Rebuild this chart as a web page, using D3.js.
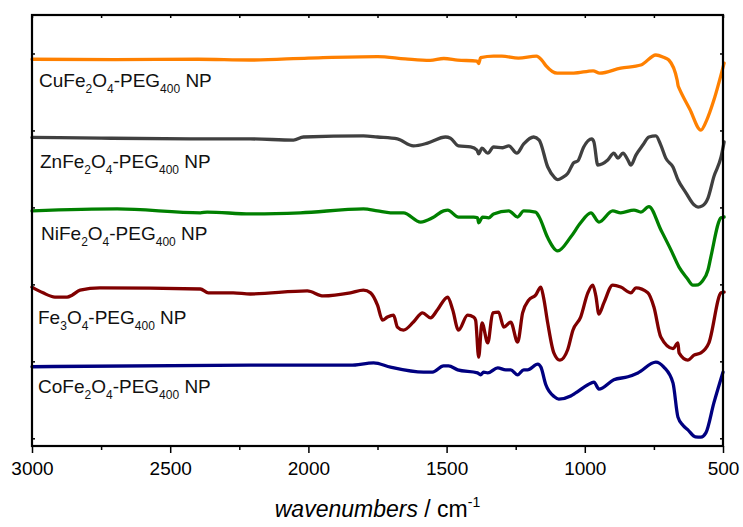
<!DOCTYPE html>
<html>
<head>
<meta charset="utf-8">
<script src="https://cdn.jsdelivr.net/npm/d3@7"></script>
<style>
  html, body { margin: 0; padding: 0; background: #fff; }
  svg { display: block; font-family: "Liberation Sans", Arial, Helvetica, sans-serif; }
</style>
</head>
<body>
<div id="chart"></div>
<script>
// x axis ticks (wavenumbers, cm-1)
const xMajor = [3000, 2500, 2000, 1500, 1000, 500]
const xMinor = [2750, 2250, 1750, 1250, 750]
const yTicks = [0, 20, 40, 60, 80, 100]

// spectra: [wavenumber, transmittance (a.u., offset)]
const cuFe2O4 = [
  [3000, 98.5], [2700, 98.4], [2400, 98.5], [2210, 98.3], [2000, 98.8], [1750, 99.2],
  [1650, 98.6], [1560, 98.2], [1510, 98.7], [1460, 98.3], [1390, 98.0], [1384, 97.4],
  [1377, 98.9], [1330, 99.3], [1300, 99.3], [1240, 98.8], [1175, 99.3], [1155, 98.2],
  [1140, 96.8], [1100, 94.9], [1040, 94.9], [970, 95.5], [946, 94.9], [870, 96.2],
  [797, 97.0], [743, 99.6], [715, 99.0], [696, 98.3], [666, 93.1], [662, 91.5],
  [659, 91.0], [620, 85.5], [580, 80.1], [560, 82.5], [533, 87.9], [496, 97.5]
]
const znFe2O4 = [
  [3000, 78.2], [2750, 78.0], [2400, 77.8], [2210, 77.8], [2054, 77.5], [2018, 78.3],
  [1801, 78.6], [1750, 78.3], [1678, 77.8], [1620, 76.0], [1569, 76.7], [1504, 78.3],
  [1486, 78.0], [1457, 76.0], [1413, 75.7], [1390, 74.9], [1384, 73.9], [1372, 75.4],
  [1351, 74.1], [1330, 75.7], [1297, 75.5], [1275, 76.0], [1246, 74.1], [1221, 76.5],
  [1185, 78.3], [1165, 77.5], [1134, 70.5], [1110, 67.8], [1098, 67.2], [1080, 67.8],
  [1062, 68.8], [1040, 71.6], [1025, 72.1], [1004, 75.7], [975, 77.8], [967, 77.0],
  [953, 71.0], [917, 72.3], [895, 74.1], [880, 72.8], [862, 74.1], [844, 72.3],
  [833, 71.0], [815, 73.6], [790, 76.2], [768, 78.3], [743, 78.6], [725, 76.2],
  [707, 72.8], [681, 70.5], [663, 67.2], [634, 63.8], [605, 60.7], [590, 60.1],
  [575, 60.4], [554, 62.5], [533, 68.0], [507, 73.1], [496, 77.0]
]
const niFe2O4 = [
  [3000, 59.1], [2692, 59.6], [2391, 58.6], [2366, 58.8], [2210, 58.3], [2029, 58.6],
  [1801, 59.6], [1750, 59.1], [1703, 58.6], [1656, 58.6], [1594, 56.2], [1551, 57.3],
  [1511, 59.1], [1496, 59.3], [1457, 57.5], [1402, 57.5], [1388, 57.3], [1384, 56.0],
  [1370, 57.5], [1348, 57.3], [1330, 58.3], [1275, 59.1], [1243, 57.5], [1221, 59.1],
  [1178, 58.8], [1165, 57.5], [1134, 52.1], [1098, 48.7], [1051, 52.3], [1015, 56.0],
  [978, 58.6], [949, 56.2], [899, 59.1], [870, 58.6], [822, 59.3], [797, 58.8],
  [768, 60.2], [725, 54.2], [688, 48.9], [659, 44.5], [630, 41.6], [609, 39.8],
  [590, 39.9], [575, 40.8], [554, 43.8], [544, 47.1], [507, 57.3], [496, 57.5]
]
const fe3O4 = [
  [3000, 39.3], [2960, 37.8], [2917, 36.7], [2873, 36.7], [2855, 37.2], [2826, 38.5],
  [2754, 39.1], [2391, 38.8], [2362, 37.8], [2272, 37.8], [2210, 37.5], [2004, 38.3],
  [1946, 37.0], [1848, 37.8], [1801, 38.5], [1775, 37.8], [1750, 34.6], [1732, 30.7],
  [1714, 31.5], [1692, 32.0], [1678, 28.9], [1656, 28.1], [1620, 30.2], [1587, 32.6],
  [1558, 31.3], [1533, 33.4], [1496, 36.7], [1478, 33.4], [1457, 28.1], [1424, 32.0],
  [1402, 31.5], [1395, 30.7], [1384, 21.1], [1372, 30.0], [1351, 24.8], [1333, 32.6],
  [1312, 32.8], [1293, 28.9], [1268, 30.2], [1243, 25.0], [1225, 32.6], [1203, 35.9],
  [1178, 37.2], [1159, 39.3], [1149, 36.5], [1134, 29.9], [1112, 22.2], [1090, 20.3],
  [1062, 23.0], [1043, 28.1], [1015, 31.5], [989, 37.8], [971, 39.8], [960, 37.0],
  [949, 32.3], [931, 35.2], [899, 39.8], [870, 39.3], [833, 37.8], [815, 39.1],
  [772, 37.8], [750, 34.1], [725, 26.3], [681, 23.3], [663, 24.8], [659, 22.2],
  [627, 20.3], [605, 21.6], [580, 22.2], [551, 24.8], [507, 37.8], [496, 38.0]
]
const coFe2O4 = [
  [3000, 18.6], [2210, 19.0], [1848, 19.0], [1764, 19.6], [1703, 18.5], [1583, 17.2],
  [1551, 17.2], [1511, 18.8], [1493, 18.8], [1460, 17.8], [1388, 17.0], [1377, 16.5],
  [1366, 17.2], [1351, 17.0], [1315, 18.3], [1286, 17.8], [1268, 17.8], [1243, 16.5],
  [1221, 17.8], [1207, 17.8], [1170, 19.3], [1159, 18.5], [1141, 13.9], [1110, 10.8],
  [1094, 10.2], [1051, 11.0], [1033, 11.8], [989, 13.9], [967, 14.6], [949, 12.8],
  [895, 15.2], [844, 16.0], [808, 17.0], [743, 19.8], [714, 18.5], [681, 14.4],
  [663, 5.5], [645, 3.4], [627, 2.2], [600, 0.4], [580, 0.3], [562, 1.4], [533, 9.2],
  [500, 17.2]
]

const seriesData = [cuFe2O4, znFe2O4, niFe2O4, fe3O4, coFe2O4]
const seriesColors = ["#ff8000", "#404040", "#008000", "#800000", "#000080"]
// label text pieces: [text, "sub"|""]
const seriesLabels = [
  [["CuFe", ""], ["2", "sub"], ["O", ""], ["4", "sub"], ["-PEG", ""], ["400", "sub"], [" NP", ""]],
  [["ZnFe", ""], ["2", "sub"], ["O", ""], ["4", "sub"], ["-PEG", ""], ["400", "sub"], [" NP", ""]],
  [["NiFe", ""], ["2", "sub"], ["O", ""], ["4", "sub"], ["-PEG", ""], ["400", "sub"], [" NP", ""]],
  [["Fe", ""], ["3", "sub"], ["O", ""], ["4", "sub"], ["-PEG", ""], ["400", "sub"], [" NP", ""]],
  [["CoFe", ""], ["2", "sub"], ["O", ""], ["4", "sub"], ["-PEG", ""], ["400", "sub"], [" NP", ""]]
]
const labelPos = [[39, 87], [40, 168], [41, 240], [38, 324], [38, 393]]

const W = 743, H = 527
const box = { left: 32, top: 15, right: 723, bottom: 446 }

const svg = d3.select("#chart").append("svg")
  .attr("width", W)
  .attr("height", H)

svg.append("rect").attr("width", W).attr("height", H).attr("fill", "#fff")

const x = d3.scaleLinear().domain([3000, 500]).range([box.left, box.right])
const y = d3.scaleLinear().domain([-2, 110]).range([box.bottom, box.top])

const line = d3.line()
  .x((d) => x(d[0]))
  .y((d) => y(d[1]))
  .curve(d3.curveMonotoneX)

const curves = svg.append("g")
seriesData.forEach((data, i) => {
  curves.append("path")
    .datum(data)
    .attr("d", line)
    .attr("fill", "none")
    .attr("stroke", seriesColors[i])
    .attr("stroke-width", 3.3)
    .attr("stroke-linejoin", "round")
    .attr("stroke-linecap", "round")
})

// frame
svg.append("rect")
  .attr("x", box.left)
  .attr("y", box.top)
  .attr("width", box.right - box.left)
  .attr("height", box.bottom - box.top)
  .attr("fill", "none")
  .attr("stroke", "#000")
  .attr("stroke-width", 2.2)

const styleAxis = (g) => {
  g.select(".domain").remove()
  g.selectAll(".tick line").attr("stroke", "#000").attr("stroke-width", 1.5)
}

// bottom axis, major with labels
svg.append("g")
  .attr("transform", `translate(0, ${box.bottom})`)
  .call(d3.axisBottom(x).tickValues(xMajor).tickSize(7).tickPadding(9).tickFormat(d3.format("d")))
  .call(styleAxis)
  .call((g) => g.selectAll("text")
    .attr("fill", "#000")
    .attr("font-size", 19)
    .attr("font-family", "Liberation Sans, Arial, sans-serif"))

svg.append("g")
  .attr("transform", `translate(0, ${box.bottom})`)
  .call(d3.axisBottom(x).tickValues(xMinor).tickSize(4).tickFormat(""))
  .call(styleAxis)

// top axis, inward ticks
svg.append("g")
  .attr("transform", `translate(0, ${box.top})`)
  .call(d3.axisTop(x).tickValues(xMajor.concat(xMinor)).tickSize(-3).tickFormat(""))
  .call(styleAxis)

// left / right axes, inward ticks
svg.append("g")
  .attr("transform", `translate(${box.left}, 0)`)
  .call(d3.axisLeft(y).tickValues(yTicks).tickSize(-3).tickFormat(""))
  .call(styleAxis)

svg.append("g")
  .attr("transform", `translate(${box.right}, 0)`)
  .call(d3.axisRight(y).tickValues(yTicks).tickSize(-3).tickFormat(""))
  .call(styleAxis)

// series labels
seriesLabels.forEach((parts, i) => {
  const t = svg.append("text")
    .attr("x", labelPos[i][0])
    .attr("y", labelPos[i][1])
    .attr("font-size", 19)
    .attr("fill", "#111")
  let low = false
  parts.forEach(([txt, kind]) => {
    const sp = t.append("tspan").text(txt)
    if (kind == "sub") {
      sp.attr("font-size", 12).attr("dy", low ? 0 : 6)
      low = true
    } else {
      if (low) sp.attr("dy", -6)
      low = false
    }
  })
})

// axis title
const title = svg.append("text")
  .attr("x", (box.left + box.right) / 2)
  .attr("y", 517)
  .attr("text-anchor", "middle")
  .attr("font-size", 23)
  .attr("fill", "#000")
title.append("tspan").attr("font-style", "italic").text("wavenumbers")
title.append("tspan").text(" / cm")
title.append("tspan").attr("font-size", 14).attr("dy", -10).text("-1")
</script>
</body>
</html>
